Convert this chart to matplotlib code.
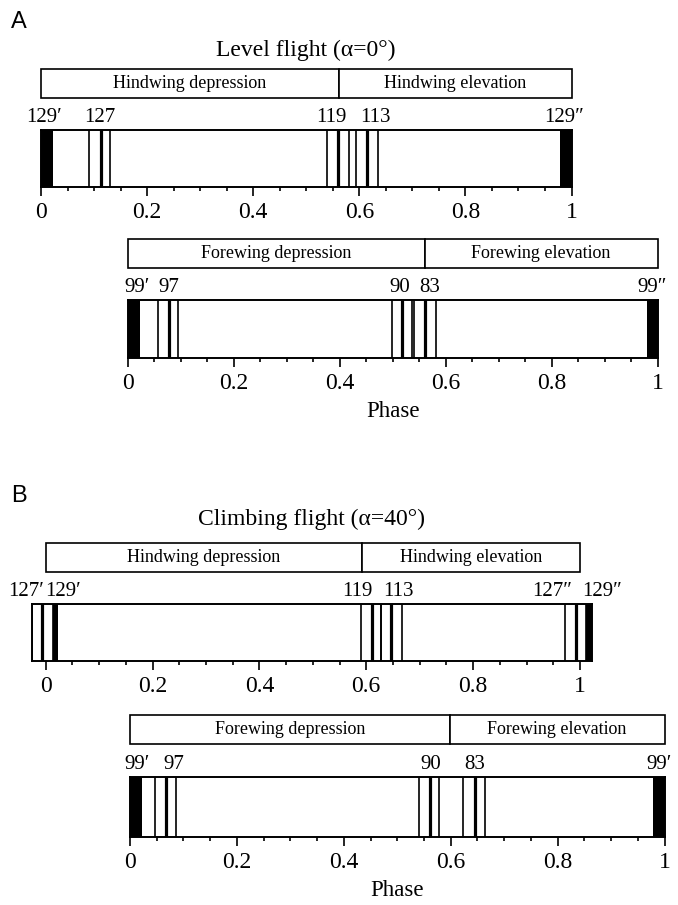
import matplotlib
matplotlib.use("Agg")
import matplotlib.pyplot as plt
from matplotlib.ticker import MultipleLocator, FuncFormatter

plt.rcParams['font.family'] = ['Liberation Serif', 'DejaVu Serif']
W, H = 678, 905

# --- Level flight (A) ---
lvl_hind_bounds = [0.0, 0.562, 1.0]
lvl_hind_phases = ["Hindwing depression", "Hindwing elevation"]
lvl_hind_spikes = [(0.091, 0.114, 0.130), (0.540, 0.560, 0.580), (0.593, 0.614, 0.635)]
lvl_hind_black = [(0.0, 0.023), (0.978, 1.0)]
lvl_hind_names = ["129′", "127", "119", "113", "129″"]
lvl_hind_name_x = [0.006, 0.111, 0.547, 0.630, 0.986]

lvl_fore_bounds = [0.0, 0.560, 1.0]
lvl_fore_phases = ["Forewing depression", "Forewing elevation"]
lvl_fore_spikes = [(0.057, 0.077, 0.095), (0.498, 0.518, 0.537), (0.541, 0.561, 0.582)]
lvl_fore_black = [(0.0, 0.023), (0.979, 1.0)]
lvl_fore_names = ["99′", "97", "90", "83", "99″"]
lvl_fore_name_x = [0.017, 0.078, 0.514, 0.569, 0.990]

# --- Climbing flight (B) ---
clb_hind_bounds = [0.0, 0.593, 1.0]
clb_hind_phases = ["Hindwing depression", "Hindwing elevation"]
clb_hind_spikes = [(-0.025, -0.006, 0.014), (0.591, 0.610, 0.627),
                   (0.627, 0.646, 0.667), (0.972, 0.993, 1.012)]
clb_hind_black = [(0.014, 0.024), (1.012, 1.022)]
clb_hind_names = ["127′", "129′", "119", "113", "127″", "129″"]
clb_hind_name_x = [-0.037, 0.033, 0.584, 0.661, 0.948, 1.042]

clb_fore_bounds = [0.0, 0.598, 1.0]
clb_fore_phases = ["Forewing depression", "Forewing elevation"]
clb_fore_spikes = [(0.046, 0.067, 0.086), (0.540, 0.561, 0.579), (0.623, 0.645, 0.664)]
clb_fore_black = [(0.0, 0.023), (0.978, 1.0)]
clb_fore_names = ["99′", "97", "90", "83", "99′"]
clb_fore_name_x = [0.013, 0.082, 0.562, 0.645, 0.990]


def px_axes(fig, x0, y0, x1, y1):
    return fig.add_axes([x0 / W, 1 - y1 / H, (x1 - x0) / W, (y1 - y0) / H])


def draw_bar(fig, xpx, ypx, boxpx, xlim, bounds, phases, spikes, black, names, name_x, phase_label=False):
    # phase boxes above the bar
    bax = px_axes(fig, xpx[0], boxpx[0], xpx[1], boxpx[1])
    bax.set_xlim(xlim)
    bax.set_ylim(0, 1)
    bax.axis('off')
    for i, name in enumerate(phases):
        a, b = bounds[i], bounds[i + 1]
        bax.add_patch(plt.Rectangle((a, 0), b - a, 1, fc='white', ec='black', lw=1.2, clip_on=False))
        bax.text((a + b) / 2, 0.5, name, ha='center', va='center', fontsize=13)

    ax = px_axes(fig, xpx[0], ypx[0], xpx[1], ypx[1])
    ax.set_xlim(xlim)
    ax.set_ylim(0, 1)
    for a, b in black:
        ax.axvspan(a, b, color='black', lw=0)
    for lo, mid, hi in spikes:
        ax.axvline(lo, color='black', lw=1.2)
        ax.axvline(hi, color='black', lw=1.2)
        ax.axvline(mid, color='black', lw=2.3)
    for s in ax.spines.values():
        s.set_linewidth(1.4)
    ax.set_yticks([])
    ax.xaxis.set_major_locator(MultipleLocator(0.2))
    ax.xaxis.set_minor_locator(MultipleLocator(0.05))
    ax.xaxis.set_major_formatter(FuncFormatter(lambda v, p: '%g' % round(v, 2)))
    ax.tick_params(axis='x', which='major', length=6.5, width=1.2, labelsize=17, pad=4)
    ax.tick_params(axis='x', which='minor', length=3, width=1.2)
    for x, t in zip(name_x, names):
        ax.annotate(t, (x, 1), xytext=(0, 2.5), textcoords='offset points',
                    ha='center', va='bottom', fontsize=15, annotation_clip=False)
    if phase_label:
        ax.set_xlabel("Phase", fontsize=16.5, labelpad=5)
    return ax


fig = plt.figure(figsize=(W / 100, H / 100), dpi=100)

# panel A
fig.text(11 / W, 1 - 22 / H, "A", fontsize=17, family='Liberation Sans', va='center')
fig.text(306 / W, 1 - 50 / H, "Level flight (α=0°)", fontsize=17, ha='center', va='center')
draw_bar(fig, (41, 571.5), (130.5, 187.5), (69, 98), (0, 1),
         lvl_hind_bounds, lvl_hind_phases, lvl_hind_spikes, lvl_hind_black,
         lvl_hind_names, lvl_hind_name_x)
draw_bar(fig, (127.7, 657.7), (300, 358), (239, 268), (0, 1),
         lvl_fore_bounds, lvl_fore_phases, lvl_fore_spikes, lvl_fore_black,
         lvl_fore_names, lvl_fore_name_x, phase_label=True)

# panel B
fig.text(11 / W, 1 - 496 / H, "B", fontsize=17, family='Liberation Sans', va='center')
fig.text(312 / W, 1 - 519 / H, "Climbing flight (α=40°)", fontsize=17, ha='center', va='center')
draw_bar(fig, (32.3, 591.7), (604, 661), (543, 572), (-0.025, 1.022),
         clb_hind_bounds, clb_hind_phases, clb_hind_spikes, clb_hind_black,
         clb_hind_names, clb_hind_name_x)
draw_bar(fig, (130, 664.5), (777, 837), (715, 744), (0, 1),
         clb_fore_bounds, clb_fore_phases, clb_fore_spikes, clb_fore_black,
         clb_fore_names, clb_fore_name_x, phase_label=True)

fig.savefig("out.png", dpi=100, facecolor='white')
